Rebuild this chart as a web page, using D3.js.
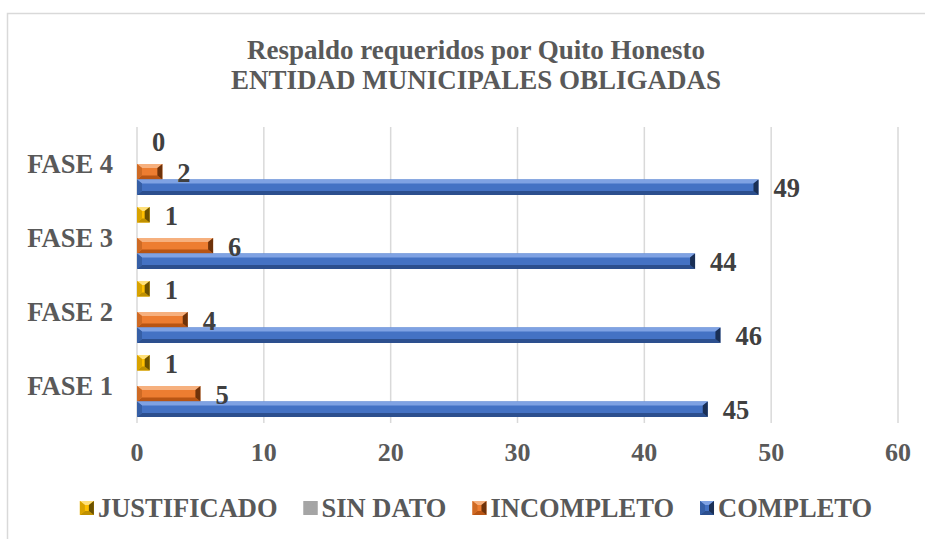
<!DOCTYPE html>
<html>
<head>
<meta charset="utf-8">
<script src="https://cdn.jsdelivr.net/npm/d3@7"></script>
<style>
  body { margin: 0; background: #fff; }
  text { font-family: "Liberation Serif", "Times New Roman", serif; font-weight: bold; }
</style>
</head>
<body>
<script>
// data
const categories = ["FASE 1", "FASE 2", "FASE 3", "FASE 4"];
const seriesNames = ["JUSTIFICADO", "SIN DATO", "INCOMPLETO", "COMPLETO"];
const justificado = [1, 1, 1, 0];
const sinDato = [null, null, null, null];
const incompleto = [5, 4, 6, 2];
const completo = [45, 46, 44, 49];
const xTicks = [0, 10, 20, 30, 40, 50, 60];
const titleLines = ["Respaldo requeridos por Quito Honesto", "ENTIDAD MUNICIPALES OBLIGADAS"];

let width = 925, height = 539;
let plot = { left: 137, right: 898, top: 127, bottom: 423 };
let centerX = 476;

let svg = d3.select("body").append("svg")
  .attr("width", width)
  .attr("height", height);

// chart frame (runs off the right / bottom edge)
svg.append("rect")
  .attr("x", 7.5).attr("y", 13.5)
  .attr("width", 1000).attr("height", 600)
  .attr("fill", "white")
  .attr("stroke", "#d9d9d9")
  .attr("stroke-width", 1.5);

// title
svg.append("g").selectAll("text").data(titleLines).join("text")
  .attr("x", centerX)
  .attr("y", (d, i) => 59 + i * 30)
  .attr("text-anchor", "middle")
  .attr("font-size", 27)
  .attr("fill", "#595959")
  .text(d => d);

// scales
let xScale = d3.scaleLinear().domain([0, 60]).range([plot.left, plot.right]);
let yScale = d3.scaleBand()
  .domain(categories.slice().reverse())
  .range([plot.top, plot.bottom])
  .paddingInner(0.165)
  .paddingOuter(0.0825);
let slotScale = d3.scaleBand()
  .domain(seriesNames)
  .range([0, yScale.bandwidth()]);

// bevel colours: top, base, bottom, left, right
let palette = {
  "JUSTIFICADO": ["#ffe07a", "#ffc000", "#bf9000", "#d9a300", "#6b5100"],
  "SIN DATO": ["#a5a5a5", "#a5a5a5", "#a5a5a5", "#a5a5a5", "#a5a5a5"],
  "INCOMPLETO": ["#f6b07e", "#ed7d31", "#b85514", "#cf6a24", "#6e320a"],
  "COMPLETO": ["#7fa2e3", "#4472c4", "#2c4f8e", "#365fa6", "#1a2f55"]
};
let seriesValues = {
  "JUSTIFICADO": justificado,
  "SIN DATO": sinDato,
  "INCOMPLETO": incompleto,
  "COMPLETO": completo
};

// gridlines
svg.append("g").selectAll("line").data(xTicks).join("line")
  .attr("x1", d => xScale(d)).attr("x2", d => xScale(d))
  .attr("y1", plot.top).attr("y2", plot.bottom)
  .attr("stroke", "#d9d9d9")
  .attr("stroke-width", 1.5);

// x tick labels
svg.append("g").selectAll("text").data(xTicks).join("text")
  .attr("x", d => xScale(d))
  .attr("y", 461)
  .attr("text-anchor", "middle")
  .attr("font-size", 26)
  .attr("fill", "#595959")
  .text(d => d);

// category labels
svg.append("g").selectAll("text").data(categories).join("text")
  .attr("x", 113)
  .attr("y", d => yScale(d) + yScale.bandwidth() / 2 + 9)
  .attr("text-anchor", "end")
  .attr("font-size", 26.5)
  .attr("fill", "#595959")
  .text(d => d);

// draws one bevelled box
function bevel(g, x0, y0, w, h, cols) {
  if (w <= 0) return;
  let b = Math.min(4, h / 2, w / 2);
  let be = Math.min(5, h / 2, w / 2);
  let x1 = x0 + w, y1 = y0 + h;
  g.append("rect")
    .attr("x", x0).attr("y", y0).attr("width", w).attr("height", h)
    .attr("fill", cols[1]);
  let faces = [
    [[x0, y0], [x1, y0], [x1 - be, y0 + b], [x0 + be, y0 + b], cols[0]],
    [[x0, y1], [x1, y1], [x1 - be, y1 - b], [x0 + be, y1 - b], cols[2]],
    [[x0, y0], [x0 + be, y0 + b], [x0 + be, y1 - b], [x0, y1], cols[3]],
    [[x1, y0], [x1 - be, y0 + b], [x1 - be, y1 - b], [x1, y1], cols[4]]
  ];
  faces.forEach(f => {
    g.append("polygon")
      .attr("points", f.slice(0, 4).map(p => p.join(",")).join(" "))
      .attr("fill", f[4]);
  });
}

// bars and data labels
let bars = svg.append("g");
let labels = svg.append("g");
seriesNames.forEach(name => {
  let vals = seriesValues[name];
  categories.forEach((cat, i) => {
    let v = vals[i];
    if (v === null) return;
    let y0 = yScale(cat) + slotScale(name);
    let h = slotScale.bandwidth();
    let g = bars.append("g");
    bevel(g, xScale(0), y0, xScale(v) - xScale(0), h, palette[name]);
    labels.append("text")
      .attr("x", xScale(v) + 15)
      .attr("y", y0 + h / 2 + 10)
      .attr("font-size", 26.5)
      .attr("fill", "#404040")
      .text(v);
  });
});

// legend
let legend = svg.append("g").attr("transform", "translate(0, 508)");
let items = legend.selectAll("g").data(seriesNames).join("g");
items.append("text")
  .attr("x", 18)
  .attr("y", 9)
  .attr("font-size", 26.5)
  .attr("fill", "#595959")
  .text(d => d);
let offsets = [], total = 0;
items.each(function(d) {
  let w = 18 + d3.select(this).select("text").node().getComputedTextLength();
  offsets.push(total);
  total += w + 26;
});
total -= 26;
let startX = centerX - total / 2;
items.attr("transform", (d, i) => `translate(${startX + offsets[i]}, 0)`);
items.each(function(d) {
  bevel(d3.select(this).insert("g", "text"), 0, -7, 14, 14, palette[d]);
});
</script>
</body>
</html>
